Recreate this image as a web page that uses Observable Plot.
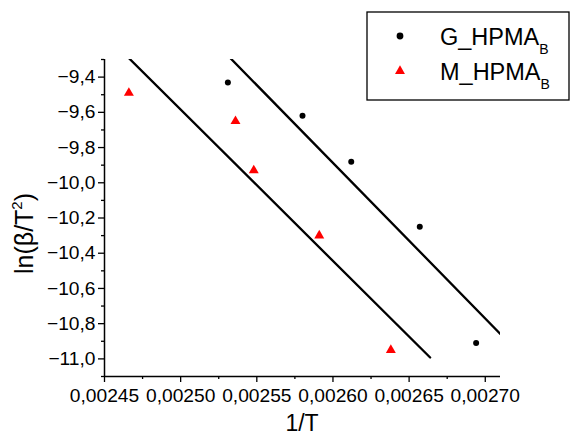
<!DOCTYPE html>
<html><head><meta charset="utf-8">
<script src="https://cdn.jsdelivr.net/npm/d3@7"></script>
<script src="https://cdn.jsdelivr.net/npm/@observablehq/plot@0.6"></script>
<style>html,body{margin:0;padding:0;background:#fff} svg{display:block}</style>
</head><body><div id="chart"></div>
<script>
// ---- data ----
const seriesNames = ["G_HPMA", "M_HPMA"];
const seriesSub = "B";
const seriesColors = ["#000000", "#ff0000"];
const seriesSymbols = ["circle", "triangle"];
const gX = [0.002531, 0.002580, 0.002612, 0.002657, 0.002694];
const gY = [-9.43, -9.62, -9.88, -10.25, -10.91];
const mX = [0.002466, 0.002536, 0.002548, 0.002591, 0.002638];
const mY = [-9.49, -9.65, -9.93, -10.30, -10.95];
const fitExtend = 0.15;
const xTicks = [0.00245, 0.00250, 0.00255, 0.00260, 0.00265, 0.00270];
const xMinor = [0.002475, 0.002525, 0.002575, 0.002625, 0.002675];
const yTicks = [-11.0, -10.8, -10.6, -10.4, -10.2, -10.0, -9.8, -9.6, -9.4];
const yMinor = [-11.1, -10.9, -10.7, -10.5, -10.3, -10.1, -9.9, -9.7, -9.5, -9.3];
const xDomain = [0.00245, 0.00271];
const yDomain = [-11.1, -9.3];
const xLabel = "1/T";
const yLabelMain = "ln(β/T";
const yLabelSup = "2";
const yLabelEnd = ")";

// ---- helpers ----
const fmtX = d => d.toFixed(5).replace(".", ",");
const fmtY = d => d.toFixed(1).replace(".", ",").replace("-", "\u2212");
function fit(xs, ys) {
  const mx = d3.mean(xs), my = d3.mean(ys);
  const b = d3.sum(xs, (x, i) => (x - mx) * (ys[i] - my)) / d3.sum(xs, x => (x - mx) ** 2);
  const a = my - b * mx;
  const [lo, hi] = d3.extent(xs);
  const e = (hi - lo) * fitExtend;
  return [lo - e, hi + e].map(x => ({x, y: a + b * x}));
}
const gData = gX.map((x, i) => ({x, y: gY[i]}));
const mData = mX.map((x, i) => ({x, y: mY[i]}));

const font = "'Liberation Sans', Arial, sans-serif";
const W = 572, H = 438, mL = 104, mR = 72, mT = 59, mB = 62;
const tickFont = 19.2;

const chart = Plot.plot({
  width: W, height: H,
  marginLeft: mL, marginRight: mR, marginTop: mT, marginBottom: mB,
  style: {fontFamily: font, fontSize: tickFont + "px", color: "#000", background: "#fff", overflow: "visible"},
  x: {domain: xDomain},
  y: {domain: yDomain},
  marks: [
    Plot.axisX(xTicks, {tickSize: 6, tickPadding: 6, tickFormat: fmtX, label: null, fontSize: tickFont, strokeWidth: 1.3, stroke: "#000", fill: "#000"}),
    Plot.axisX(xMinor, {tickSize: 3, tickFormat: () => "", label: null, strokeWidth: 1.3, stroke: "#000"}),
    Plot.axisY(yTicks, {tickSize: 6, tickPadding: 3, tickFormat: fmtY, label: null, fontSize: tickFont, strokeWidth: 1.3, stroke: "#000", fill: "#000"}),
    Plot.axisY(yMinor, {tickSize: 3, tickFormat: () => "", label: null, strokeWidth: 1.3, stroke: "#000"}),
    Plot.ruleX([xDomain[0]], {stroke: "#000", strokeWidth: 1.5}),
    Plot.ruleY([yDomain[0]], {stroke: "#000", strokeWidth: 1.5}),
    Plot.line(fit(gX, gY), {x: "x", y: "y", stroke: "#000", strokeWidth: 2.3, clip: true}),
    Plot.line(fit(mX, mY), {x: "x", y: "y", stroke: "#000", strokeWidth: 2.3, clip: true}),
    Plot.dot(gData, {x: "x", y: "y", r: 3, fill: seriesColors[0], symbol: seriesSymbols[0]}),
    Plot.dot(mData, {x: "x", y: "y", r: 3.7, fill: seriesColors[1], symbol: seriesSymbols[1]})
  ]
});

const svg = d3.select(chart);
// axis titles
svg.append("text")
  .attr("x", (mL + W - mR) / 2).attr("y", 431)
  .attr("text-anchor", "middle")
  .attr("font-family", font).attr("font-size", 23).attr("fill", "#000")
  .text(xLabel);
const yl = svg.append("text")
  .attr("transform", "translate(33,233.5) rotate(-90)")
  .attr("text-anchor", "middle")
  .attr("font-family", font).attr("font-size", 25).attr("fill", "#000");
yl.append("tspan").text(yLabelMain);
yl.append("tspan").attr("font-size", 15).attr("dy", -11).text(yLabelSup);
yl.append("tspan").attr("dy", 11).text(yLabelEnd);

// legend
const lg = svg.append("g").attr("text-anchor", "start");
lg.append("rect").attr("x", 367).attr("y", 12).attr("width", 202).attr("height", 88)
  .attr("fill", "#fff").attr("stroke", "#000").attr("stroke-width", 1.3);
const symSize = [Math.PI * 3.4 * 3.4, Math.PI * 3.7 * 3.7];
const symType = [d3.symbolCircle, d3.symbolTriangle];
seriesNames.forEach((name, i) => {
  const cy = 36 + i * 35;
  lg.append("path")
    .attr("d", d3.symbol(symType[i], symSize[i])())
    .attr("transform", `translate(400,${cy})`)
    .attr("fill", seriesColors[i]);
  const t = lg.append("text")
    .attr("x", 440).attr("y", 45 + i * 35)
    .attr("text-anchor", "start")
    .attr("font-family", font).attr("font-size", 23.5).attr("fill", "#000");
  t.append("tspan").text(name);
  t.append("tspan").attr("font-size", 14).attr("dy", 9).text(seriesSub);
});

document.getElementById("chart").appendChild(chart);
</script>
</body></html>
